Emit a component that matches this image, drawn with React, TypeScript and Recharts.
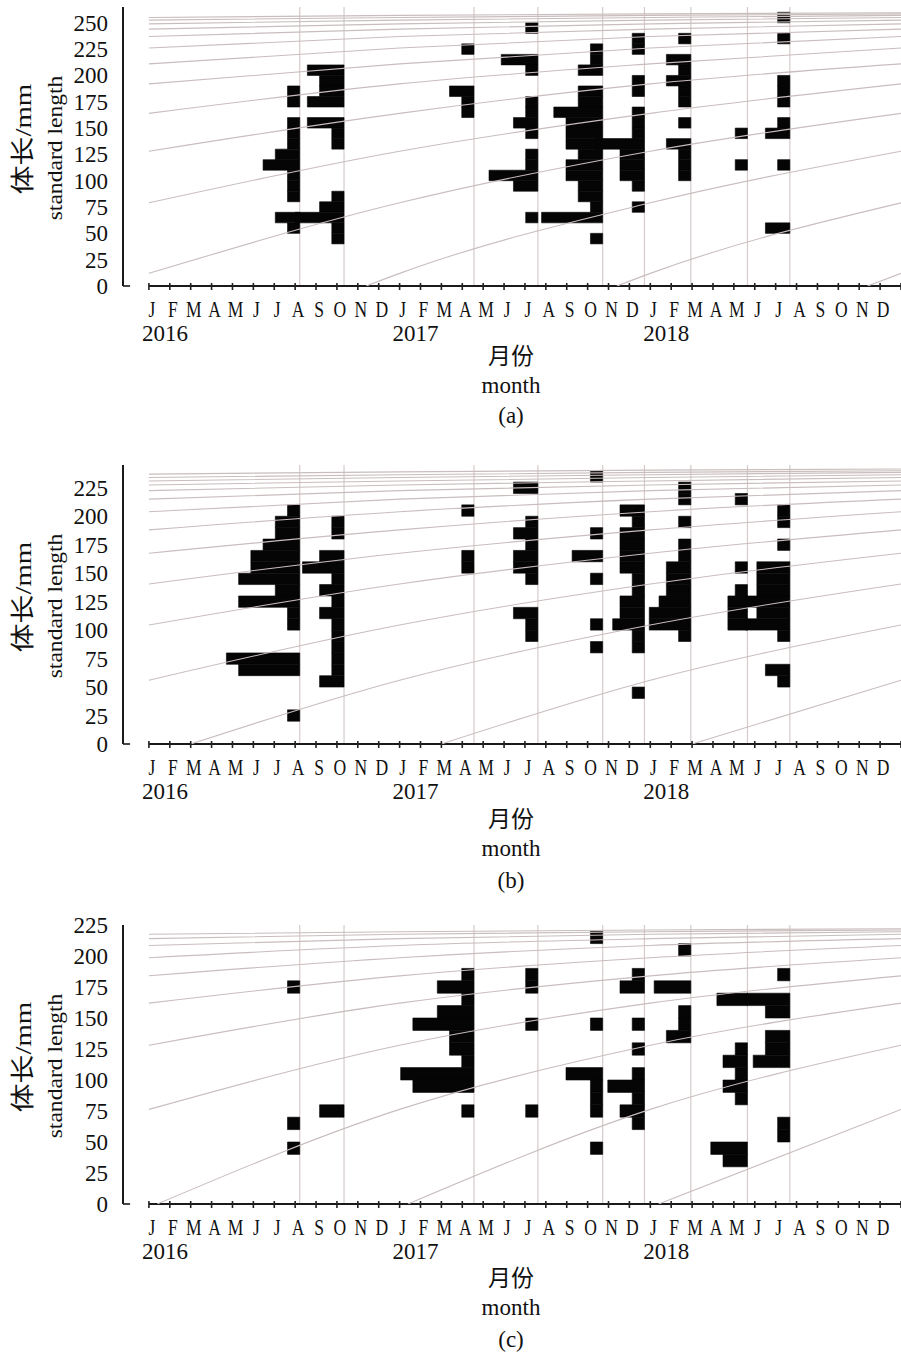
import { ComposedChart, XAxis, YAxis, Line, ReferenceArea, ReferenceLine } from "recharts";

const serif = '"Liberation Serif", "Times New Roman", serif';
const cjk = '"Liberation Serif", "Noto Sans CJK SC", serif';

const monthLetters = ["J", "F", "M", "A", "M", "J", "J", "A", "S", "O", "N", "D"];
const yearLabels = ["2016", "2017", "2018"];
const monthTicks = Array.from({ length: 37 }, (_, i) => i);

// sampling dates, in months from Jan 2016
const sampleMonths = [7.22, 9.34, 15.56, 18.62, 21.72, 23.72, 25.94, 28.65, 30.68];

// [length class lower bound (mm), relative frequency] for each sampling date
const freqA: number[][][] = [
  [[170, 1], [180, 1], [130, 1], [140, 1], [150, 1], [120, 2], [110, 3], [80, 1], [90, 1], [100, 1], [60, 2], [50, 1]],
  [[200, 3], [190, 2], [180, 2], [170, 3], [150, 3], [140, 1], [130, 1], [80, 1], [70, 2], [60, 4], [50, 1], [40, 1]],
  [[220, 1], [180, 2], [170, 1], [160, 1]],
  [[240, 1], [210, 3], [200, 1], [170, 1], [160, 1], [150, 2], [140, 1], [120, 1], [110, 1], [100, 4], [90, 2], [60, 1]],
  [[220, 1], [210, 1], [200, 2], [180, 2], [170, 2], [160, 4], [150, 3], [140, 3], [130, 3], [120, 2], [110, 3], [100, 3], [90, 2], [80, 2], [70, 1], [60, 5], [40, 1]],
  [[230, 1], [220, 1], [190, 1], [180, 1], [160, 1], [150, 1], [140, 1], [130, 4], [120, 2], [110, 2], [100, 2], [90, 1], [70, 1]],
  [[230, 1], [210, 2], [200, 1], [190, 2], [180, 1], [170, 1], [150, 1], [130, 2], [120, 1], [110, 1], [100, 1]],
  [[140, 1], [110, 1]],
  [[250, 1], [230, 1], [190, 1], [180, 1], [170, 1], [150, 1], [140, 2], [110, 1], [50, 2]],
];

const freqB: number[][][] = [
  [[200, 1], [190, 2], [180, 2], [170, 3], [160, 4], [150, 4], [140, 5], [130, 2], [120, 5], [110, 1], [100, 1], [70, 6], [60, 5], [20, 1]],
  [[190, 1], [180, 1], [160, 2], [150, 3.4], [140, 1], [130, 2], [120, 1], [110, 2], [100, 1], [90, 1], [80, 1], [70, 1], [60, 1], [50, 2]],
  [[200, 1], [160, 1], [150, 1]],
  [[220, 2], [190, 1], [180, 2], [170, 1], [160, 2], [150, 2], [140, 1], [110, 2], [100, 1], [90, 1]],
  [[230, 1], [180, 1], [160, 2.5], [140, 1], [100, 1], [80, 1]],
  [[200, 2], [190, 1], [180, 2], [170, 2], [160, 2], [150, 2], [140, 1], [130, 1], [120, 2], [110, 2], [100, 2.6], [90, 1], [80, 1], [40, 1]],
  [[220, 1], [210, 1], [190, 1], [170, 1], [160, 1], [150, 2], [140, 2], [130, 2], [120, 2.6], [110, 3.4], [100, 3.4], [90, 1]],
  [[210, 1], [150, 1], [130, 1], [120, 1.6], [110, 1.6], [100, 1.6]],
  [[200, 1], [190, 1], [170, 1], [150, 2.7], [140, 2.7], [130, 2.7], [120, 3.6], [110, 2.7], [100, 3.6], [90, 1], [60, 2], [50, 1]],
];

const freqC: number[][][] = [
  [[170, 1], [60, 1], [40, 1]],
  [[70, 2]],
  [[180, 1], [170, 3], [160, 1], [150, 3], [140, 5], [130, 2], [120, 2], [110, 1], [100, 6], [90, 5], [70, 1]],
  [[180, 1], [170, 1], [140, 1], [70, 1]],
  [[210, 1], [140, 1], [100, 3], [90, 1], [80, 1], [70, 1], [40, 1]],
  [[180, 1], [170, 2], [140, 1], [120, 1], [100, 1], [90, 3], [80, 1], [70, 2], [60, 1]],
  [[200, 1], [170, 3], [150, 1], [140, 1], [130, 2]],
  [[160, 2.5], [120, 1], [110, 2], [100, 1], [90, 2], [80, 1], [40, 3], [30, 2]],
  [[180, 1], [160, 3.5], [150, 2], [130, 2], [120, 2], [110, 3], [60, 1], [50, 1]],
];

// growth curves: [month, length]
const growthA: number[][][] = [
  [[0, 12], [12, 79], [24, 128], [36, 164]],
  [[0, 79], [12, 128], [24, 164], [36, 192]],
  [[0, 128], [12, 164], [24, 192], [36, 211]],
  [[0, 164], [12, 192], [24, 211], [36, 226]],
  [[0, 192], [12, 211], [24, 226], [36, 237]],
  [[0, 211], [12, 226], [24, 237], [36, 244]],
  [[0, 226], [12, 237], [24, 244], [36, 249]],
  [[0, 237], [12, 244], [24, 249], [36, 252.5]],
  [[0, 244], [12, 249], [24, 252.5], [36, 255]],
  [[0, 249], [12, 252.5], [24, 255], [36, 257]],
  [[0, 252.5], [12, 255], [24, 257], [36, 258.5]],
  [[0, 255], [12, 257], [24, 258.5], [36, 259.5]],
  [[10.4, 0], [12, 12], [24, 79], [36, 128]],
  [[22.4, 0], [24, 12], [36, 79]],
  [[34.4, 0], [36, 12]],
];

const growthB: number[][][] = [
  [[0, 56], [12, 104.5], [24, 140.5], [36, 167.5]],
  [[0, 104.5], [12, 140.5], [24, 167.5], [36, 188]],
  [[0, 140.5], [12, 167.5], [24, 188], [36, 204]],
  [[0, 167.5], [12, 188], [24, 204], [36, 215]],
  [[0, 188], [12, 204], [24, 215], [36, 222.5]],
  [[0, 204], [12, 215], [24, 222.5], [36, 227.5]],
  [[0, 215], [12, 222.5], [24, 227.5], [36, 231]],
  [[0, 222.5], [12, 227.5], [24, 231], [36, 234]],
  [[0, 227.5], [12, 231], [24, 234], [36, 236.5]],
  [[0, 231], [12, 234], [24, 236.5], [36, 238.5]],
  [[0, 234], [12, 236.5], [24, 238.5], [36, 240]],
  [[0, 237], [12, 239], [24, 240.5], [36, 241.5]],
  [[2, 0], [12, 56], [24, 104.5], [36, 140.5]],
  [[14, 0], [24, 56], [36, 104.5]],
  [[26, 0], [36, 56]],
];

const growthC: number[][][] = [
  [[0, 76.3], [12, 128], [24, 162], [36, 184]],
  [[0, 128], [12, 162], [24, 184], [36, 198.6]],
  [[0, 162], [12, 184], [24, 198.6], [36, 208.5]],
  [[0, 184], [12, 198.6], [24, 208.5], [36, 214]],
  [[0, 198.6], [12, 208.5], [24, 214], [36, 217.5]],
  [[0, 208.5], [12, 214], [24, 217.5], [36, 219.6]],
  [[0, 214], [12, 217.5], [24, 219.6], [36, 221]],
  [[0, 217.5], [12, 219.6], [24, 221], [36, 222]],
  [[0.4, 0], [12, 76.3], [24, 128], [36, 162]],
  [[12.4, 0], [24, 76.3], [36, 128]],
  [[24.4, 0], [36, 76.3]],
];

const ticksA = [0, 25, 50, 75, 100, 125, 150, 175, 200, 225, 250];
const ticksBC = [0, 25, 50, 75, 100, 125, 150, 175, 200, 225];

const panels = [
  { tag: "(a)", top: 7, max: 265, ticks: ticksA, freq: freqA, growth: growthA, shift: 0 },
  { tag: "(b)", top: 465, max: 245, ticks: ticksBC, freq: freqB, growth: growthB, shift: 5 },
  { tag: "(c)", top: 925, max: 225, ticks: ticksBC, freq: freqC, growth: growthC, shift: 4 },
];

const PLOT_H = 279;
const UNIT = 0.585; // months per frequency unit
const curveColor = "#c9bdbd";
const sampleColor = "#d6caca";

function MonthTick(props: any) {
  const { x, y, payload } = props;
  const m = payload.value as number;
  return (
    <g>
      <line x1={x} x2={x} y1={y - 3} y2={y + 4} stroke="#222" strokeWidth={1.6} />
      {m < 36 && (
        <text
          transform={`translate(${x + 3},${y + 31}) scale(0.78,1)`}
          textAnchor="middle"
          fontSize={22.5}
          fontFamily={serif}
          fill="#111"
        >
          {monthLetters[m % 12]}
        </text>
      )}
      {m < 36 && m % 12 === 0 && (
        <text x={x + 16} y={y + 55} textAnchor="middle" fontSize={23} fontFamily={serif} fill="#111">
          {yearLabels[m / 12]}
        </text>
      )}
    </g>
  );
}

function LengthTick(props: any) {
  const { x, y, payload } = props;
  return (
    <text x={x} y={y} dy="0.35em" textAnchor="end" fontSize={23} fontFamily={serif} fill="#111">
      {payload.value}
    </text>
  );
}

function Panel({ p }: { p: (typeof panels)[number] }) {
  return (
    <div style={{ position: "absolute", left: 0, top: p.top - 12 }}>
      <ComposedChart width={901} height={12 + PLOT_H + 70} margin={{ top: 12, right: 0, bottom: 0, left: 0 }}>
        <XAxis
          type="number"
          dataKey="x"
          domain={[-1.24, 36]}
          allowDataOverflow
          ticks={monthTicks}
          interval={0}
          axisLine={false}
          tickLine={false}
          tickSize={0}
          tickMargin={0}
          height={70}
          tick={(t: any) => <MonthTick {...t} />}
        />
        <YAxis
          type="number"
          domain={[0, p.max]}
          allowDataOverflow
          ticks={p.ticks}
          interval={0}
          width={123}
          axisLine={{ stroke: "#1a1a1a", strokeWidth: 2 }}
          tickLine={false}
          tickSize={0}
          tickMargin={15}
          tick={(t: any) => <LengthTick {...t} />}
        />
        {p.freq.flatMap((rows, di) =>
          rows.map(([lo, f], i) => (
            <ReferenceArea
              key={`f${di}-${i}`}
              x1={sampleMonths[di] - f * UNIT}
              x2={sampleMonths[di]}
              y1={lo}
              y2={lo + 10}
              fill="#050505"
              fillOpacity={1}
              stroke="#050505"
              strokeWidth={0.6}
              zIndex={1}
            />
          ))
        )}
        {sampleMonths.map((m) => (
          <ReferenceLine key={`s${m}`} x={m} stroke={sampleColor} strokeWidth={1.2} zIndex={0} />
        ))}
        {p.growth.map((pts, i) => (
          <Line
            key={`g${i}`}
            data={pts.map(([x, y]) => ({ x, y }))}
            dataKey="y"
            type="monotone"
            stroke={curveColor}
            strokeWidth={1.1}
            dot={false}
            activeDot={false}
            isAnimationActive={false}
            zIndex={450}
          />
        ))}
        <ReferenceLine segment={[{ x: 0, y: 0 }, { x: 36, y: 0 }]} stroke="#1a1a1a" strokeWidth={2} />
        <ReferenceLine segment={[{ x: -1.24, y: 0 }, { x: -0.9, y: 0 }]} stroke="#1a1a1a" strokeWidth={1.6} />
      </ComposedChart>
    </div>
  );
}

export default function App() {
  return (
    <div style={{ position: "absolute", left: 0, top: 0, width: 901, height: 1353, background: "#fff", overflow: "hidden" }}>
      {panels.map((p) => (
        <Panel key={p.tag} p={p} />
      ))}
      <svg width={901} height={1353} style={{ position: "absolute", left: 0, top: 0, pointerEvents: "none" }}>
        {panels.map((p) => {
          const bottom = p.top + PLOT_H;
          return (
            <g key={p.tag} fill="#111">
              <text
                transform={`translate(23,${p.top + 132}) rotate(-90) scale(1.2,1)`}
                textAnchor="middle"
                dominantBaseline="central"
                fontSize={24}
                fontFamily={cjk}
              >
                体长/mm
              </text>
              <text
                transform={`translate(55,${p.top + 141}) rotate(-90) scale(1.15,1)`}
                textAnchor="middle"
                dominantBaseline="central"
                fontSize={20.5}
                fontFamily={serif}
              >
                standard length
              </text>
              <text x={511} y={bottom + 78 + p.shift} textAnchor="middle" fontSize={23} fontFamily={cjk}>
                月份
              </text>
              <text x={511} y={bottom + 107 + p.shift} textAnchor="middle" fontSize={23} fontFamily={serif}>
                month
              </text>
              <text x={511} y={bottom + 137 + p.shift * 1.4} textAnchor="middle" fontSize={23} fontFamily={serif}>
                {p.tag}
              </text>
            </g>
          );
        })}
      </svg>
    </div>
  );
}
